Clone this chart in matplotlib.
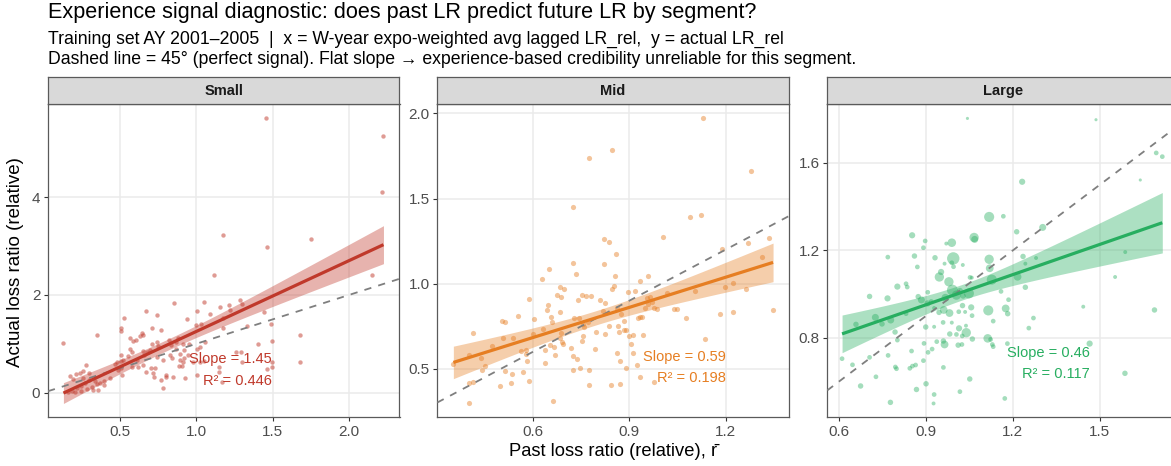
import numpy as np
import matplotlib
matplotlib.use("Agg")
import matplotlib.pyplot as plt

plt.rcParams['font.family'] = ['Liberation Sans', 'DejaVu Sans']

# ---------------- data ----------------
segments = ["Small", "Mid", "Large"]
slope_labels = ["Slope = 1.45", "Slope = 0.59", "Slope = 0.46"]
r2_labels = ["R\u00b2 = 0.446", "R\u00b2 = 0.198", "R\u00b2 = 0.117"]
fit_slope = [1.45, 0.59, 0.46]
fit_intercept = [-0.197, 0.330, 0.537]

small_x = [0.129, 1.454, 2.225, 2.218, 1.175, 1.749, 1.461, 1.114, 2.151, 0.854, 1.052, 1.284, 1.216, 1.155,
           1.301, 1.007, 1.092, 1.22, 1.445, 0.672, 0.740, 0.528, 0.937, 1.172, 1.489, 1.332, 0.996, 1.03,
           0.771, 0.504, 0.509, 0.707, 0.349, 0.646, 0.648, 1.172, 1.677, 0.568, 0.587, 0.603, 0.631, 0.882,
           0.821, 0.867, 0.91, 0.832, 0.707, 1.404, 1.496, 0.747, 0.865, 1.055, 1.026, 1.007, 0.952, 0.568,
           0.648, 0.675, 0.828, 0.504, 0.74, 0.779, 0.84, 0.893, 0.921, 0.91, 0.889, 0.904, 1.262, 1.29,
           1.297, 1.494, 1.677, 1.498, 1.465, 1.15, 1.148, 1.166, 1.002, 0.926, 0.849, 0.799, 0.801, 0.771,
           0.782, 0.721, 0.718, 0.668, 0.616, 0.653, 0.701, 0.731, 0.576, 0.478, 0.467, 0.509, 0.522, 0.504,
           0.485, 0.511, 0.434, 0.393, 0.349, 0.354, 0.321, 0.277, 0.299, 0.238, 0.26, 0.212, 0.172, 0.26,
           0.299, 0.336, 0.369, 0.271, 0.245, 0.216, 0.183, 0.162, 0.203, 0.245, 0.286, 0.314, 0.395, 0.19,
           0.893, 0.921, 0.948, 0.98, 1.024, 1.052, 0.659, 0.609, 0.555, 0.576, 0.74, 0.696]
small_y = [1.02, 5.62, 5.26, 4.10, 3.22, 3.15, 2.99, 2.40, 2.41, 1.84, 1.86, 1.90, 1.80, 1.75,
           1.81, 1.68, 1.60, 1.69, 1.66, 1.67, 1.58, 1.53, 1.50, 1.53, 1.41, 1.37, 1.39, 1.40,
           1.29, 1.32, 1.26, 1.32, 1.17, 1.23, 1.18, 1.33, 1.18, 1.11, 1.06, 1.07, 1.15, 1.11,
           1.08, 1.04, 1.00, 0.98, 0.99, 0.99, 1.06, 0.95, 0.89, 1.03, 0.93, 0.89, 0.99, 0.89,
           0.86, 0.83, 0.76, 0.77, 0.73, 0.66, 0.70, 0.66, 0.70, 0.63, 0.54, 0.55, 0.84, 0.83,
           0.62, 0.62, 0.62, 0.53, 0.48, 0.53, 0.42, 0.21, 0.35, 0.29, 0.32, 0.32, 0.35, 0.25,
           0.09, 0.31, 0.41, 0.43, 0.52, 0.57, 0.50, 0.51, 0.53, 0.62, 0.59, 0.65, 0.66, 0.50,
           0.46, 0.35, 0.29, 0.24, 0.18, 0.05, 0.05, 0.56, 0.41, 0.41, 0.45, 0.38, 0.33, 0.29,
           0.25, 0.23, 0.20, 0.19, 0.14, 0.09, 0.03, 0.01, 0.01, 0.03, 0.08, 0.12, 0.16, 0.28,
           0.78, 0.87, 0.77, 0.63, 0.62, 0.65, 0.77, 0.66, 0.74, 0.84, 1.03, 0.87]

mid_x = [1.131, 0.846, 0.774, 1.279, 0.725, 1.089, 1.123, 1.004, 1.336, 0.821, 0.838, 1.27, 1.19, 0.86,
         0.724, 0.822, 1.314, 0.652, 0.735, 0.856, 0.934, 0.628, 0.959, 0.852, 0.847, 0.685, 0.697, 0.688,
         0.675, 0.753, 0.765, 0.782, 0.741, 0.587, 0.919, 0.897, 0.956, 0.958, 1.018, 1.105, 1.198, 1.222,
         1.263, 0.647, 0.645, 0.81, 0.826, 0.861, 0.818, 0.876, 0.686, 0.553, 0.505, 0.514, 0.605, 0.658,
         0.66, 0.728, 0.745, 0.771, 0.755, 0.759, 0.838, 0.866, 0.929, 0.935, 0.94, 0.978, 0.987, 1.039,
         1.078, 1.183, 1.222, 1.348, 1.137, 0.942, 0.901, 0.913, 0.883, 0.884, 0.87, 0.798, 0.825, 0.757,
         0.752, 0.793, 0.689, 0.685, 0.692, 0.693, 0.654, 0.667, 0.637, 0.601, 0.631, 0.538, 0.507, 0.474,
         0.562, 0.578, 0.579, 0.583, 0.44, 0.452, 0.443, 0.535, 0.515, 0.569, 0.587, 0.532, 0.499, 0.415,
         0.403, 0.402, 0.414, 0.401, 0.353, 0.662, 0.637, 0.67, 0.719, 0.726, 0.737, 0.725, 0.748, 0.775,
         0.774, 0.845, 0.872, 0.873, 0.862, 0.891, 0.891, 0.907, 0.913, 0.924, 0.934, 0.978, 1.049, 0.965,
         0.949, 0.97]
mid_y = [1.971, 1.785, 1.740, 1.662, 1.452, 1.394, 1.402, 1.274, 1.267, 1.263, 1.247, 1.237, 1.202, 1.173,
         1.122, 1.114, 1.159, 1.085, 1.055, 1.044, 1.019, 1.026, 1.044, 0.989, 0.967, 0.981, 0.969, 0.922,
         0.934, 0.934, 0.926, 0.926, 0.905, 0.911, 0.958, 0.950, 0.918, 0.879, 0.944, 0.958, 0.981, 1.005,
         0.969, 0.876, 0.846, 0.903, 0.885, 0.860, 0.840, 0.825, 0.832, 0.809, 0.784, 0.778, 0.791, 0.805,
         0.778, 0.801, 0.801, 0.778, 0.762, 0.746, 0.754, 0.754, 0.801, 0.807, 0.803, 0.856, 0.850, 0.850,
         0.801, 0.821, 0.836, 0.844, 0.676, 0.701, 0.694, 0.700, 0.782, 0.729, 0.717, 0.719, 0.703, 0.696,
         0.666, 0.617, 0.709, 0.684, 0.660, 0.645, 0.641, 0.631, 0.611, 0.707, 0.735, 0.680, 0.680, 0.637,
         0.606, 0.611, 0.586, 0.547, 0.563, 0.518, 0.494, 0.469, 0.490, 0.482, 0.432, 0.416, 0.400, 0.709,
         0.582, 0.416, 0.422, 0.299, 0.527, 0.314, 0.537, 0.582, 0.621, 0.578, 0.559, 0.494, 0.508, 0.496,
         0.406, 0.406, 0.414, 0.547, 0.592, 0.504, 0.729, 0.649, 0.592, 0.522, 0.451, 0.422, 0.850, 0.924,
         0.856, 0.895]

large_x = [1.043, 1.487, 1.695, 1.716, 1.640, 1.232, 1.118, 1.167, 1.303, 1.213, 0.852, 1.066, 1.068, 0.989,
           0.897, 0.97, 0.891, 0.994, 0.86, 0.768, 0.931, 1.118, 1.235, 1.28, 1.588, 0.989, 0.964, 1.027,
           0.87, 1.12, 1.243, 0.995, 0.952, 0.946, 1.052, 1.058, 1.127, 1.216, 1.553, 0.979, 0.801, 0.831,
           0.835, 1.243, 0.991, 1.017, 1.048, 1.159, 0.705, 0.767, 0.873, 0.906, 0.884, 0.918, 0.967, 1.005,
           1.028, 1.185, 1.443, 1.689, 0.658, 0.725, 0.748, 0.778, 0.831, 0.905, 0.928, 0.945, 0.961, 0.981,
           1.013, 1.026, 1.035, 1.056, 1.059, 1.115, 1.175, 1.182, 1.132, 1.271, 1.255, 0.899, 0.928, 0.959,
           0.989, 1.038, 1.014, 1.039, 0.982, 1.005, 1.025, 1.06, 1.113, 1.123, 1.129, 1.132, 1.181, 1.465,
           0.793, 0.801, 0.937, 0.96, 0.964, 1.011, 1.024, 0.893, 0.61, 0.646, 0.705, 0.769, 0.85, 0.907,
           0.921, 0.891, 0.794, 0.798, 0.844, 0.853, 0.864, 0.96, 0.674, 0.727, 0.867, 0.9, 1.051, 1.017,
           0.928, 0.926, 0.777, 1.172, 1.587]
large_y = [1.804, 1.798, 1.646, 1.629, 1.522, 1.514, 1.353, 1.356, 1.305, 1.285, 1.269, 1.259, 1.250, 1.235,
           1.243, 1.231, 1.212, 1.163, 1.174, 1.169, 1.166, 1.159, 1.172, 1.165, 1.192, 1.143, 1.139, 1.133,
           1.124, 1.118, 1.139, 1.125, 1.101, 1.078, 1.076, 1.075, 1.066, 1.079, 1.078, 1.056, 1.034, 1.047,
           1.032, 1.031, 1.018, 1.014, 1.003, 1.012, 0.989, 0.980, 0.988, 1.008, 0.973, 0.966, 0.983, 0.995,
           0.991, 0.974, 0.942, 0.927, 0.861, 0.893, 0.863, 0.881, 0.910, 0.957, 0.936, 0.916, 0.927, 0.913,
           0.919, 0.947, 0.918, 0.939, 0.901, 0.925, 0.934, 0.910, 0.876, 0.890, 0.844, 0.849, 0.850, 0.870,
           0.869, 0.855, 0.843, 0.823, 0.817, 0.815, 0.808, 0.794, 0.797, 0.792, 0.769, 0.759, 0.773, 0.773,
           0.826, 0.789, 0.782, 0.785, 0.769, 0.766, 0.769, 0.774, 0.704, 0.676, 0.710, 0.719, 0.739, 0.733,
           0.748, 0.695, 0.666, 0.658, 0.660, 0.670, 0.675, 0.664, 0.579, 0.621, 0.563, 0.589, 0.611, 0.553,
           0.540, 0.499, 0.504, 0.522, 0.637]
large_expo = [1.0, 1.0, 2.3, 2.3, 1.0, 4.0, 10.6, 2.3, 5.1, 3.1, 4.0, 9.0, 5.1, 7.6,
              2.3, 1.6, 2.3, 16.0, 3.1, 2.3, 3.1, 9.0, 3.1, 1.6, 1.6, 2.3, 1.6, 1.6,
              2.3, 6.3, 1.6, 2.3, 4.0, 9.0, 2.3, 1.6, 10.6, 6.3, 1.6, 9.0, 4.0, 2.3,
              2.3, 3.1, 12.3, 4.0, 10.6, 2.3, 3.1, 4.0, 3.1, 2.3, 5.1, 2.3, 6.3, 9.0,
              3.1, 2.3, 1.6, 3.1, 3.1, 5.1, 3.1, 5.1, 2.3, 4.0, 1.6, 3.1, 6.3, 6.3,
              2.3, 3.1, 1.6, 4.0, 2.3, 10.6, 6.3, 3.1, 2.3, 2.3, 2.3, 3.1, 1.6, 2.3,
              1.6, 1.6, 4.0, 9.0, 3.1, 2.3, 2.3, 3.1, 7.6, 2.3, 2.3, 2.3, 2.3, 4.0,
              3.1, 2.3, 2.3, 3.1, 6.3, 3.1, 2.3, 2.3, 2.3, 2.3, 2.3, 2.3, 2.3, 2.3,
              2.3, 2.3, 2.3, 2.3, 2.3, 2.3, 2.3, 2.3, 3.1, 2.3, 3.1, 3.1, 3.1, 2.3,
              2.3, 1.6, 3.1, 2.3, 3.1]

xs = [small_x, mid_x, large_x]
ys = [small_y, mid_y, large_y]
ws = [None, None, large_expo]

# ---------------- style ----------------
colors = ["#C0392B", "#E67E22", "#27AE60"]
W, H = 1171, 466
fig = plt.figure(figsize=(W / 100, H / 100), dpi=100)

def fx(px):
    return px / W

def fy(py):
    return 1 - py / H

panel_left = [48, 437.3, 827.3]
panel_w = 351.5
top, bot, strip_top = 104, 417, 77
xlims = [(0.028, 2.33), (0.303, 1.397), (0.559, 1.773)]
ylims = [(-0.50, 5.91), (0.218, 2.055), (0.437, 1.870)]
xticks = [[0.5, 1.0, 1.5, 2.0], [0.6, 0.9, 1.2], [0.6, 0.9, 1.2, 1.5]]
yticks = [[0, 2, 4], [0.5, 1.0, 1.5, 2.0], [0.8, 1.2, 1.6]]
xfmt = ["{:.1f}", "{:.1f}", "{:.1f}"]
yfmt = ["{:.0f}", "{:.1f}", "{:.1f}"]
label_pos = [(0.637, 0.185, 0.116), (0.820, 0.193, 0.126), (0.746, 0.203, 0.136)]
pt_alpha = [0.5, 0.45, 0.42]

for i, seg in enumerate(segments):
    l = panel_left[i]
    ax = fig.add_axes([fx(l), fy(bot), panel_w / W, (bot - top) / H])
    x = np.asarray(xs[i], float)
    y = np.asarray(ys[i], float)
    w = np.ones_like(x) if ws[i] is None else np.asarray(ws[i], float)

    # points
    if ws[i] is None:
        sizes = 10 if i == 0 else 14
    else:
        sizes = (w ** 0.5 * 3.1 * 0.72) ** 2
    ax.scatter(x, y, s=sizes, color=colors[i], alpha=pt_alpha[i], linewidths=0, zorder=2)

    # linear fit line + 95% CI band (residual spread from the data)
    b1, b0 = fit_slope[i], fit_intercept[i]
    sw = w.sum()
    xb = (w * x).sum() / sw
    sxx = (w * (x - xb) ** 2).sum()
    res = y - (b0 + b1 * x)
    n = len(x)
    s2 = (w * res ** 2).sum() / (n - 2)
    xg = np.linspace(x.min(), x.max(), 100)
    yg = b0 + b1 * xg
    se = np.sqrt(s2 * (1 / sw + (xg - xb) ** 2 / sxx))
    tq = 1.977
    ax.fill_between(xg, yg - tq * se, yg + tq * se, color=colors[i], alpha=0.38, linewidth=0, zorder=3)
    ax.axline((0, 0), slope=1, color="#7F7F7F", lw=1.3, ls=(0, (4, 4)), zorder=4)
    ax.plot(xg, yg, color=colors[i], lw=2.3, zorder=5, solid_capstyle="butt")

    lx, ly1, ly2 = label_pos[i]
    ax.text(lx, ly1, slope_labels[i], transform=ax.transAxes, ha="right", va="center",
            color=colors[i], fontsize=10.5, zorder=6)
    ax.text(lx, ly2, r2_labels[i], transform=ax.transAxes, ha="right", va="center",
            color=colors[i], fontsize=10.5, zorder=6)

    ax.set_xlim(*xlims[i])
    ax.set_ylim(*ylims[i])
    ax.set_xticks(xticks[i])
    ax.set_yticks(yticks[i])
    ax.set_xticklabels([xfmt[i].format(v) for v in xticks[i]])
    ax.set_yticklabels([yfmt[i].format(v) for v in yticks[i]])
    ax.grid(True, color="#EBEBEB", lw=1.1, zorder=0)
    ax.set_axisbelow(True)
    ax.tick_params(axis="both", length=3, width=0.8, color="#333333", labelcolor="#4D4D4D",
                   labelsize=11, pad=2.5)
    for sp in ax.spines.values():
        sp.set_color("#5A5A5A")
        sp.set_linewidth(0.9)

    # strip
    sax = fig.add_axes([fx(l), fy(top), panel_w / W, (top - strip_top) / H])
    sax.set_facecolor("#D9D9D9")
    sax.set_xticks([])
    sax.set_yticks([])
    for sp in sax.spines.values():
        sp.set_color("#5A5A5A")
        sp.set_linewidth(0.9)
    sax.text(0.5, 0.5, seg, transform=sax.transAxes, ha="center", va="center",
             fontsize=10.5, fontweight="bold", color="#1A1A1A")

fig.text(fx(48), fy(18.3), "Experience signal diagnostic: does past LR predict future LR by segment?",
         fontsize=15.6, ha="left", va="baseline", color="#000000")
fig.text(fx(48), fy(63.5),
         "Dashed line = 45\u00b0 (perfect signal). Flat slope \u2192 experience-based credibility unreliable for this segment.",
         fontsize=12.7, ha="left", va="baseline", color="#000000")
fig.text(fx(48), fy(44.3),
         "Training set AY 2001\u20132005  |  x = W-year expo-weighted avg lagged LR_rel,  y = actual LR_rel",
         fontsize=12.7, ha="left", va="baseline", color="#000000")
fig.text(fx(613), fy(452), "Past loss ratio (relative), r\u0304", fontsize=13.2, ha="center", va="center")
fig.text(fx(16), fy(262), "Actual loss ratio (relative)", fontsize=13.5, ha="center", va="center",
         rotation=90)

fig.savefig("out.png", dpi=100)
